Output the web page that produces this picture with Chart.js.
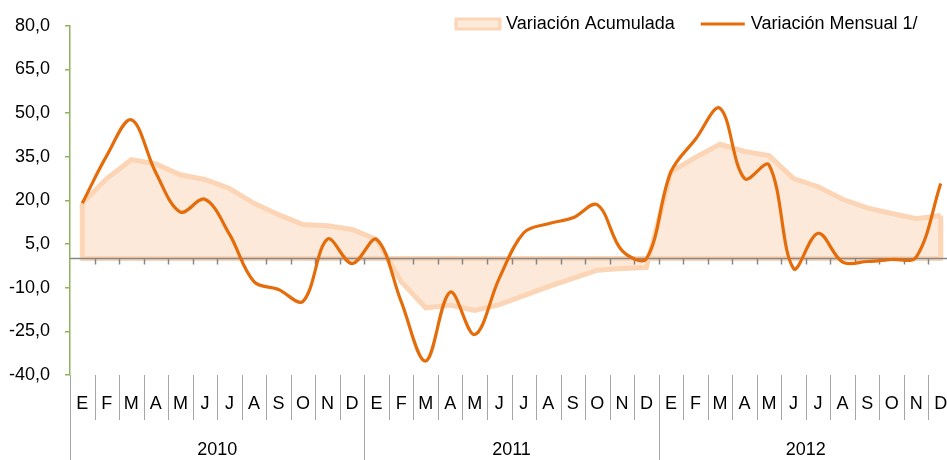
<!DOCTYPE html>
<html>
<head>
<meta charset="utf-8">
<script src="https://cdn.jsdelivr.net/npm/chart.js@4.4.0/dist/chart.umd.min.js"></script>
<style>
  html, body { margin: 0; padding: 0; background: #fff; overflow: hidden; }
  #wrap { width: 960px; height: 460px; position: relative; }
</style>
</head>
<body>
<div id="wrap"><canvas id="chart"></canvas></div>
<script>
const years = ['2010', '2011', '2012'];
const months = ['E', 'F', 'M', 'A', 'M', 'J', 'J', 'A', 'S', 'O', 'N', 'D'];
const categories = years.flatMap(y => months.map(m => m + ' ' + y));

const yTicks = { min: -40, max: 80, step: 15 };

// Variación Acumulada (area)
const acumulada = [
    19.0, 27.5, 34.0, 32.5, 28.8, 27.2, 24.1, 19.0, 15.1, 11.7, 11.3, 10.0,
    6.6, -7.9, -16.9, -16.0, -17.8, -15.8, -12.7, -9.6, -6.8, -4.0, -3.4, -3.1,
    29.8, 34.8, 39.3, 36.8, 35.4, 27.5, 24.7, 20.4, 17.4, 15.5, 13.7, 14.8
];
// Variación Mensual 1/ (line)
const mensual = [
    19.0, 35.4, 47.7, 29.5, 16.0, 20.4, 8.4, -7.9, -10.6, -14.7, 6.7, -1.7,
    6.6, -14.7, -35.2, -11.5, -26.1, -6.8, 8.9, 12.0, 14.0, 18.5, 2.8, 0.0,
    29.8, 41.0, 51.7, 27.5, 32.2, -3.4, 8.7, -1.2, -1.0, -0.3, 0.5, 25.8
];

const orange = '#E46C0A';
const peachFill = '#FDE9D9';
const peachBorder = '#FBD5B5';
const green = '#8EB35A';
const gray = '#868686';
const sepGray = '#A6A6A6';
const fontFamily = "'Liberation Sans', Arial, sans-serif";

// zero axis + outline of the area (drawn between area and line)
const zeroAxisPlugin = {
    id: 'zeroAxis',
    afterDatasetDraw(chart, args) {
        if (chart.data.datasets[args.index].label !== 'Variación Acumulada') return;
        const ctx = chart.ctx;
        const x = chart.scales.x, y = chart.scales.y;
        const y0 = y.getPixelForValue(0);
        const pts = args.meta.data;
        const first = pts[0], last = pts[pts.length - 1];

        ctx.save();
        ctx.strokeStyle = peachBorder;
        ctx.lineWidth = 5;
        ctx.lineJoin = 'round';
        ctx.beginPath();
        ctx.moveTo(first.x, first.y);
        ctx.lineTo(first.x, y0);
        ctx.lineTo(last.x, y0);
        ctx.lineTo(last.x, last.y);
        ctx.stroke();

        ctx.strokeStyle = gray;
        ctx.lineWidth = 1.5;
        ctx.beginPath();
        ctx.moveTo(chart.chartArea.left, y0);
        ctx.lineTo(chart.chartArea.right, y0);
        for (let i = 1; i <= categories.length; i++) {
            const bx = Math.round(x.getPixelForValue(i - 0.5)) + 0.5;
            ctx.moveTo(bx, y0);
            ctx.lineTo(bx, y0 + 6);
        }
        ctx.stroke();
        ctx.restore();
    }
};

// two-level category axis (months / years) below the plot
const catAxisPlugin = {
    id: 'catAxis',
    afterDraw(chart) {
        const ctx = chart.ctx;
        const x = chart.scales.x;
        const top = chart.chartArea.bottom;
        const h = chart.height;

        ctx.save();
        ctx.strokeStyle = sepGray;
        ctx.lineWidth = 1;
        ctx.beginPath();
        for (let i = 0; i <= categories.length; i++) {
            const bx = Math.round(x.getPixelForValue(i - 0.5)) + 0.5;
            ctx.moveTo(bx, top);
            ctx.lineTo(bx, i % 12 === 0 ? h : top + 45);
        }
        ctx.stroke();

        ctx.fillStyle = '#000';
        ctx.textAlign = 'center';
        ctx.textBaseline = 'middle';
        ctx.font = '18px ' + fontFamily;
        categories.forEach((c, i) => {
            ctx.fillText(months[i % 12], x.getPixelForValue(i), top + 29);
        });
        years.forEach((yr, k) => {
            const cx = (x.getPixelForValue(k * 12 - 0.5) + x.getPixelForValue(k * 12 + 11.5)) / 2;
            ctx.fillText(yr, cx, top + 75);
        });
        ctx.restore();
    }
};

// legend drawn inside the plot, top right
const legendPlugin = {
    id: 'innerLegend',
    afterDraw(chart) {
        const ctx = chart.ctx;
        const cy = 24;
        ctx.save();
        ctx.font = '18px ' + fontFamily;
        ctx.textBaseline = 'middle';
        ctx.textAlign = 'left';

        let lx = 456;
        ctx.fillStyle = peachFill;
        ctx.strokeStyle = peachBorder;
        ctx.lineWidth = 3;
        ctx.fillRect(lx, cy - 5, 44, 10);
        ctx.strokeRect(lx, cy - 5, 44, 10);
        ctx.fillStyle = '#000';
        const t1 = 'Variación Acumulada';
        ctx.fillText(t1, lx + 50, cy);

        lx = lx + 50 + ctx.measureText(t1).width + 26;
        ctx.strokeStyle = orange;
        ctx.lineWidth = 3;
        ctx.beginPath();
        ctx.moveTo(lx, cy);
        ctx.lineTo(lx + 44, cy);
        ctx.stroke();
        ctx.fillText('Variación Mensual 1/', lx + 50, cy);
        ctx.restore();
    }
};

new Chart(document.getElementById('chart'), {
    type: 'line',
    data: {
        labels: categories,
        datasets: [
            {
                label: 'Variación Mensual 1/',
                data: mensual,
                borderColor: orange,
                borderWidth: 3.2,
                pointRadius: 0,
                tension: 0.35,
                fill: false,
                order: 1
            },
            {
                label: 'Variación Acumulada',
                data: acumulada,
                borderColor: peachBorder,
                backgroundColor: peachFill,
                borderWidth: 5,
                pointRadius: 0,
                tension: 0,
                fill: 'origin',
                order: 2
            }
        ]
    },
    options: {
        responsive: true,
        maintainAspectRatio: false,
        animation: false,
        layout: { padding: { top: 19, bottom: 85, left: 0, right: 7 } },
        plugins: {
            legend: { display: false },
            tooltip: { enabled: false }
        },
        scales: {
            x: {
                display: false,
                offset: true
            },
            y: {
                min: yTicks.min,
                max: yTicks.max,
                ticks: {
                    stepSize: yTicks.step,
                    padding: 15,
                    color: '#000',
                    font: { size: 18, family: fontFamily },
                    callback: v => v.toFixed(1).replace('.', ',')
                },
                grid: { drawOnChartArea: false, drawTicks: true, tickLength: 5, color: green, lineWidth: 1.5 },
                border: { color: green, width: 1.5 },
                afterFit(axis) { axis.width = 70; }
            }
        }
    },
    plugins: [zeroAxisPlugin, catAxisPlugin, legendPlugin]
});
</script>
</body>
</html>
